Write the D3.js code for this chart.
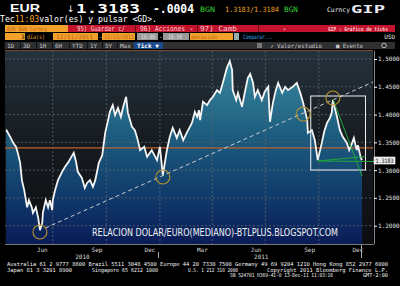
<!DOCTYPE html>
<html>
<head>
<meta charset="utf-8">
<script src="https://cdn.jsdelivr.net/npm/d3@7"></script>
<style>
  body { margin: 0; background: #000; }
  svg { display: block; }
</style>
</head>
<body>
<div id="chart"></div>
<script>
// EUR/USD (days counted from 10 Apr 2010)
var startDate = new Date(2010, 3, 10);
var endDate = new Date(2011, 11, 14);

var days = [2, 3, 9, 14, 19, 22, 26, 29, 33, 38, 41, 46, 48, 53, 57, 60, 64, 65, 70, 74,
  77, 81, 82, 86, 91, 98, 103, 108, 113, 118, 122, 125, 132, 137, 141, 146, 151, 155, 158, 161,
  167, 172, 177, 180, 185, 189, 194, 199, 203, 208, 211, 218, 223, 227, 232, 239, 244, 252, 261, 266,
  271, 278, 283, 288, 295, 300, 306, 312, 321, 326, 330, 333, 335, 340, 347, 352, 357, 364, 369, 374,
  381, 386, 390, 391, 397, 400, 407, 412, 417, 421, 426, 429, 434, 441, 446, 452, 455, 460, 465, 469,
  476, 481, 486, 494, 501, 507, 512, 519, 520, 527, 532, 537, 544, 548, 553, 558, 561, 563, 570, 575,
  580, 587, 591, 596, 599, 604, 606, 611, 613];

var prices = [1.369, 1.371, 1.360, 1.349, 1.342, 1.331, 1.313, 1.282, 1.264, 1.233, 1.246, 1.233, 1.223, 1.233, 1.214, 1.192, 1.205, 1.223, 1.246, 1.233,
  1.246, 1.228, 1.246, 1.264, 1.282, 1.297, 1.306, 1.313, 1.322, 1.331, 1.315, 1.297, 1.286, 1.268, 1.277, 1.282, 1.270, 1.282, 1.297, 1.313,
  1.327, 1.367, 1.390, 1.405, 1.417, 1.399, 1.412, 1.396, 1.414, 1.432, 1.403, 1.378, 1.372, 1.358, 1.336, 1.342, 1.324, 1.336, 1.318, 1.342,
  1.291, 1.336, 1.360, 1.376, 1.358, 1.372, 1.354, 1.367, 1.385, 1.405, 1.396, 1.408, 1.390, 1.423, 1.417, 1.426, 1.432, 1.444, 1.439, 1.457,
  1.484, 1.496, 1.480, 1.444, 1.426, 1.439, 1.414, 1.441, 1.466, 1.473, 1.457, 1.432, 1.444, 1.426, 1.441, 1.450, 1.387, 1.421, 1.444, 1.457,
  1.439, 1.450, 1.444, 1.450, 1.457, 1.439, 1.421, 1.390, 1.367, 1.372, 1.354, 1.318, 1.349, 1.369, 1.385, 1.394, 1.403, 1.426, 1.396, 1.372,
  1.360, 1.349, 1.336, 1.349, 1.358, 1.336, 1.345, 1.322, 1.318];

var yTicks = [1.2, 1.25, 1.3, 1.35, 1.4, 1.45, 1.5];
var monthLabels = ["Jun", "Sep", "Dec", "Mar", "Jun", "Sep", "Dec"];
var monthLabelDays = [64, 158, 249, 339, 431, 523, 606];
var yearLabels = ["2010", "2011"];
var yearLabelDays = [133, 440];
var gridDays = [82, 174, 266, 356, 447, 539];
var refPrice = 1.340;
var lastPrice = 1.3183;

// annotations drawn on the screen
var circleDays = [60, 271, 512, 563];
var circlePrices = [1.1886, 1.2876, 1.401, 1.4298];
var trendDays = [69, 632];
var trendPrices = [1.1958, 1.4586];
var boxDays = [525, 619];
var boxPrices = [1.4334, 1.3002];
var greenLines = [
  [[563, 1.428], [613, 1.2894]],
  [[537, 1.3164], [636, 1.3155]],
  [[537, 1.3164], [619, 1.3245]]
];

var svg = d3.select("#chart").append("svg")
  .attr("width", 400)
  .attr("height", 286)
  .style("background", "#000");

var x = d3.scaleTime()
  .domain([startDate, endDate])
  .range([5, 362]);
var y = d3.scaleLinear()
  .domain([1.2, 1.5])
  .range([225.7, 59]);
var dayDate = d => d3.timeDay.offset(startDate, d);

var data = days.map((d, i) => ({date: dayDate(d), price: prices[i]}));

var defs = svg.append("defs");
var bg = defs.append("linearGradient").attr("id", "bg")
  .attr("gradientUnits", "userSpaceOnUse")
  .attr("x1", 0).attr("y1", 50).attr("x2", 0).attr("y2", 244);
bg.append("stop").attr("offset", 0).attr("stop-color", "#25323c");
bg.append("stop").attr("offset", 0.45).attr("stop-color", "#171c21");
bg.append("stop").attr("offset", 1).attr("stop-color", "#0c0d10");

var fill = defs.append("linearGradient").attr("id", "fill")
  .attr("gradientUnits", "userSpaceOnUse")
  .attr("x1", 0).attr("y1", 55).attr("x2", 0).attr("y2", 244);
fill.append("stop").attr("offset", 0).attr("stop-color", "#3d8ea5");
fill.append("stop").attr("offset", 0.4).attr("stop-color", "#1e5f80");
fill.append("stop").attr("offset", 0.75).attr("stop-color", "#103a6a");
fill.append("stop").attr("offset", 1).attr("stop-color", "#0a1c58");

// helper for the terminal texts
function label(g, tx, ty, str, size, color, opts) {
  opts = opts || {};
  var t = g.append("text")
    .attr("x", tx).attr("y", ty)
    .attr("font-family", opts.family || "DejaVu Sans Mono, monospace")
    .attr("font-size", size)
    .attr("font-weight", opts.weight || "normal")
    .attr("fill", color)
    .attr("text-anchor", opts.anchor || "start")
    .text(str);
  if (opts.len) t.attr("textLength", opts.len).attr("lengthAdjust", "spacingAndGlyphs");
  return t;
}

// header -----------------------------------------------------------
var head = svg.append("g");
label(head, 10, 12, "EUR", 11, "#fff", {weight: "bold", family: "Liberation Sans, Arial", len: 30});
label(head, 67, 12, "\u2193", 9, "#fff", {family: "DejaVu Sans"});
label(head, 76, 12.5, "1.3183", 11.5, "#fff", {weight: "bold", len: 64});
label(head, 153, 12.5, "-.0004", 11.5, "#fff", {weight: "bold", len: 41});
label(head, 200, 12, "BGN", 7.5, "#33cc33", {len: 15});
label(head, 225, 12, "1.3183/1.3184", 7.2, "#f0a020", {len: 54});
label(head, 284, 12, "BGN", 7.5, "#33cc33", {len: 14});
label(head, 327, 12, "Curncy", 6.5, "#e8e8f0", {len: 23});
label(head, 351, 12.5, "GIP", 10, "#e8e8f0", {weight: "bold", len: 34});

var l2 = head.append("text").attr("x", 0).attr("y", 21.5)
  .attr("font-family", "DejaVu Sans Mono, monospace").attr("font-size", 8)
  .attr("textLength", 157).attr("lengthAdjust", "spacingAndGlyphs");
l2.append("tspan").attr("fill", "#fff").text("Tec");
l2.append("tspan").attr("fill", "#f0a020").text("11:03");
l2.append("tspan").attr("fill", "#fff").text("valor(es) y pulsar <GD>.");

// row 3: orange / red bar
head.append("rect").attr("x", 5).attr("y", 25).attr("width", 63).attr("height", 7).attr("fill", "#f2a12c");
label(head, 7, 31, "EUR BGN Curncy", 6, "#b5661a", {len: 40});
head.append("rect").attr("x", 68).attr("y", 25).attr("width", 327).attr("height", 7).attr("fill", "#c4132c");
[135, 197, 258].forEach(function(sx) {
  head.append("rect").attr("x", sx).attr("y", 25).attr("width", 1).attr("height", 7).attr("fill", "#6a0a14");
});
label(head, 77, 31, "95) Guardar c/", 7, "#f4d0d4", {len: 48});
label(head, 140, 31, "96) Acciones", 7, "#f4d0d4", {len: 45});
label(head, 190, 30.5, "\u2022", 5, "#f4d0d4");
label(head, 200, 31, "97) Camb", 7, "#f4d0d4", {len: 37});
label(head, 283, 30.5, "\u2022", 5, "#f4d0d4");
label(head, 328, 30.5, "GIP : Gr\u00e1fico de ticks", 5.5, "#f4d0d4", {len: 60, weight: "bold"});

// row 4: date range
head.append("rect").attr("x", 5).attr("y", 33).attr("width", 20).attr("height", 7).attr("fill", "#f2a12c");
label(head, 21, 39, "3", 6, "#2a1500");
label(head, 27, 39, "d\u00eda(s)", 6, "#f2a12c", {len: 18});
head.append("rect").attr("x", 53).attr("y", 33).attr("width", 45).attr("height", 7).attr("fill", "#f2a12c");
label(head, 56, 39, "12/11/2011", 6, "#b5661a", {len: 37});
label(head, 99, 39, "-", 6, "#ddd");
head.append("rect").attr("x", 102).attr("y", 33).attr("width", 33).attr("height", 7).attr("fill", "#f2a12c");
label(head, 104, 39, "12/13/2011", 6, "#b5661a", {len: 30});
head.append("rect").attr("x", 137).attr("y", 33).attr("width", 21).attr("height", 7).attr("fill", "#9a9a9a");
label(head, 141, 39, "19:00", 6, "#e0e0e0", {len: 14});
label(head, 159, 39, "-", 6, "#ddd");
head.append("rect").attr("x", 163).attr("y", 33).attr("width", 26).attr("height", 7).attr("fill", "#9a9a9a");
label(head, 168, 39, "18:59", 6, "#e0e0e0", {len: 14});
head.append("rect").attr("x", 190).attr("y", 33).attr("width", 43).attr("height", 7).attr("fill", "#f2a12c");
label(head, 191, 39, "peraci\u00f3n", 6, "#b5661a", {len: 26});
head.append("rect").attr("x", 234).attr("y", 33).attr("width", 5).attr("height", 7).attr("fill", "#9aa");
label(head, 243, 39, "Comparar...", 6, "#3aa0e0", {len: 30});
label(head, 395, 39, "USD", 6, "#e0e0e0", {anchor: "end"});

// row 5: buttons
head.append("rect").attr("x", 5).attr("y", 42).attr("width", 390).attr("height", 7).attr("fill", "#2e2f31");
var btns = ["1D", "3D", "1H", "6H", "YTD", "1Y", "5Y", "Max"];
var btnX = [7, 23, 39, 55, 72, 90, 105, 120];
btns.forEach(function(b, i) {
  label(head, btnX[i], 48, b, 6, "#c8c8c8");
  head.append("rect").attr("x", btnX[i] - 3).attr("y", 42).attr("width", 1).attr("height", 7).attr("fill", "#111");
});
head.append("rect").attr("x", 134).attr("y", 42).attr("width", 29).attr("height", 7).attr("fill", "#1b4a8c");
label(head, 137, 48, "Tick \u25bc", 6, "#fff", {weight: "bold", len: 22});
head.append("rect").attr("x", 257).attr("y", 43).attr("width", 5).attr("height", 5).attr("fill", "#777");
label(head, 270, 48, "\u2197 Valor/estudio", 6, "#c8c8c8", {len: 52});
label(head, 336, 48, "\u25a0 Evento", 6, "#c8c8c8", {len: 27});
head.append("circle").attr("cx", 384).attr("cy", 45.5).attr("r", 2.3).attr("fill", "none").attr("stroke", "#bbb");

// plot area ----------------------------------------------------------
var plot = svg.append("g");
plot.append("rect").attr("x", 5).attr("y", 50).attr("width", 368).attr("height", 194).attr("fill", "url(#bg)");
plot.append("line").attr("x1", 5).attr("x2", 373).attr("y1", 50.5).attr("y2", 50.5)
  .attr("stroke", "#7a4a2a").attr("stroke-width", 1);

var area = d3.area()
  .x(d => x(d.date))
  .y0(244)
  .y1(d => y(d.price));
plot.append("path").datum(data).attr("d", area).attr("fill", "url(#fill)");

// grid
plot.selectAll(".hgrid").data(yTicks).enter().append("line")
  .attr("x1", 5).attr("x2", 373)
  .attr("y1", d => y(d)).attr("y2", d => y(d))
  .attr("stroke", "#5c6670").attr("stroke-width", 0.8).attr("stroke-dasharray", "2,2");
plot.selectAll(".vgrid").data(gridDays).enter().append("line")
  .attr("x1", d => x(dayDate(d))).attr("x2", d => x(dayDate(d)))
  .attr("y1", 51).attr("y2", 244)
  .attr("stroke", "#5c6670").attr("stroke-width", 0.8).attr("stroke-dasharray", "2,2");

// reference line
plot.append("line").attr("x1", 5).attr("x2", 373)
  .attr("y1", y(refPrice)).attr("y2", y(refPrice))
  .attr("stroke", "#c0602a").attr("stroke-width", 1.3);

var line = d3.line().x(d => x(d.date)).y(d => y(d.price));
plot.append("path").datum(data).attr("d", line)
  .attr("fill", "none").attr("stroke", "#f4f4f4").attr("stroke-width", 1.8)
  .attr("stroke-linejoin", "miter");

// annotations
plot.append("line")
  .attr("x1", x(dayDate(trendDays[0]))).attr("y1", y(trendPrices[0]))
  .attr("x2", x(dayDate(trendDays[1]))).attr("y2", y(trendPrices[1]))
  .attr("stroke", "#c8ccd0").attr("stroke-width", 1).attr("stroke-dasharray", "4,3");

plot.append("rect")
  .attr("x", x(dayDate(boxDays[0]))).attr("y", y(boxPrices[0]))
  .attr("width", x(dayDate(boxDays[1])) - x(dayDate(boxDays[0])))
  .attr("height", y(boxPrices[1]) - y(boxPrices[0]))
  .attr("fill", "none").attr("stroke", "#f0f0f0").attr("stroke-width", 1);

greenLines.forEach(function(gl) {
  plot.append("line")
    .attr("x1", x(dayDate(gl[0][0]))).attr("y1", y(gl[0][1]))
    .attr("x2", x(dayDate(gl[1][0]))).attr("y2", y(gl[1][1]))
    .attr("stroke", "#22a83a").attr("stroke-width", 1);
});

plot.selectAll(".ring").data(circleDays).enter().append("circle")
  .attr("cx", d => x(dayDate(d)))
  .attr("cy", (d, i) => y(circlePrices[i]))
  .attr("r", 7)
  .attr("fill", "none").attr("stroke", "#b8922c").attr("stroke-width", 1.1);

label(plot, 92, 236, "RELACION DOLAR/EURO(MEDIANO)-BTLPLUS.BLOGSPOT.COM", 10.5, "#f0f0f0",
  {family: "Liberation Sans Narrow, DejaVu Sans Condensed, Liberation Sans, sans-serif", len: 246});

// axes -------------------------------------------------------------
var yAxis = d3.axisRight(y).tickValues(yTicks).tickFormat(d3.format(".4f")).tickSize(3).tickPadding(1);
var ya = svg.append("g").attr("transform", "translate(374,0)").call(yAxis);
ya.select(".domain").attr("stroke", "#888").attr("d", "M0.5,51V244");
ya.selectAll(".tick line").attr("stroke", "#fff");
ya.selectAll(".tick text").attr("fill", "#e0e0e0").attr("font-size", 6)
  .attr("font-family", "DejaVu Sans Mono, monospace");

svg.append("rect").attr("x", 374).attr("y", 157).attr("width", 21).attr("height", 7)
  .attr("fill", "#e8e8e8").attr("stroke", "#fff").attr("stroke-width", 0.6);
label(svg, 384.5, 162.5, lastPrice.toFixed(4), 6, "#111", {anchor: "middle", len: 18});

svg.append("line").attr("x1", 5).attr("x2", 374).attr("y1", 244.5).attr("y2", 244.5)
  .attr("stroke", "#777").attr("stroke-width", 1);

monthLabels.forEach(function(m, i) {
  label(svg, x(dayDate(monthLabelDays[i])), 251.5, m, 6, "#d8d8d8", {anchor: "middle"});
});
yearLabels.forEach(function(yl, i) {
  label(svg, x(dayDate(yearLabelDays[i])), 258.5, yl, 6, "#d8d8d8", {anchor: "middle"});
});
svg.append("line").attr("x1", 158.5).attr("x2", 158.5).attr("y1", 252).attr("y2", 258).attr("stroke", "#aaa");
svg.append("line").attr("x1", 361.5).attr("x2", 361.5).attr("y1", 245).attr("y2", 258).attr("stroke", "#aaa");

// footer -----------------------------------------------------------
var foot = svg.append("g");
label(foot, 7, 266, "Australia 61 2 9777 8600 Brazil 5511 3048 4500 Europe 44 20 7330 7500 Germany 49 69 9204 1210 Hong Kong 852 2977 6000", 5.5, "#f0f0f0", {len: 381});
label(foot, 7, 271.5, "Japan 81 3 3201 8900", 5.5, "#f0f0f0", {len: 65});
label(foot, 92, 271.5, "Singapore 65 6212 1000", 5.5, "#f0f0f0", {len: 66});
label(foot, 188, 271.5, "U.S. 1 212 318 2000", 5.5, "#f0f0f0", {len: 50});
label(foot, 267, 271.5, "Copyright 2011 Bloomberg Finance L.P.", 5.5, "#f0f0f0", {len: 121});
label(foot, 230, 277, "SN 524701 H369-41-0 13-Dec-11 11:03:16", 5.5, "#f0f0f0", {len: 103});
label(foot, 363, 277, "GMT-2:00", 5.5, "#f0f0f0", {len: 25});
</script>
</body>
</html>
